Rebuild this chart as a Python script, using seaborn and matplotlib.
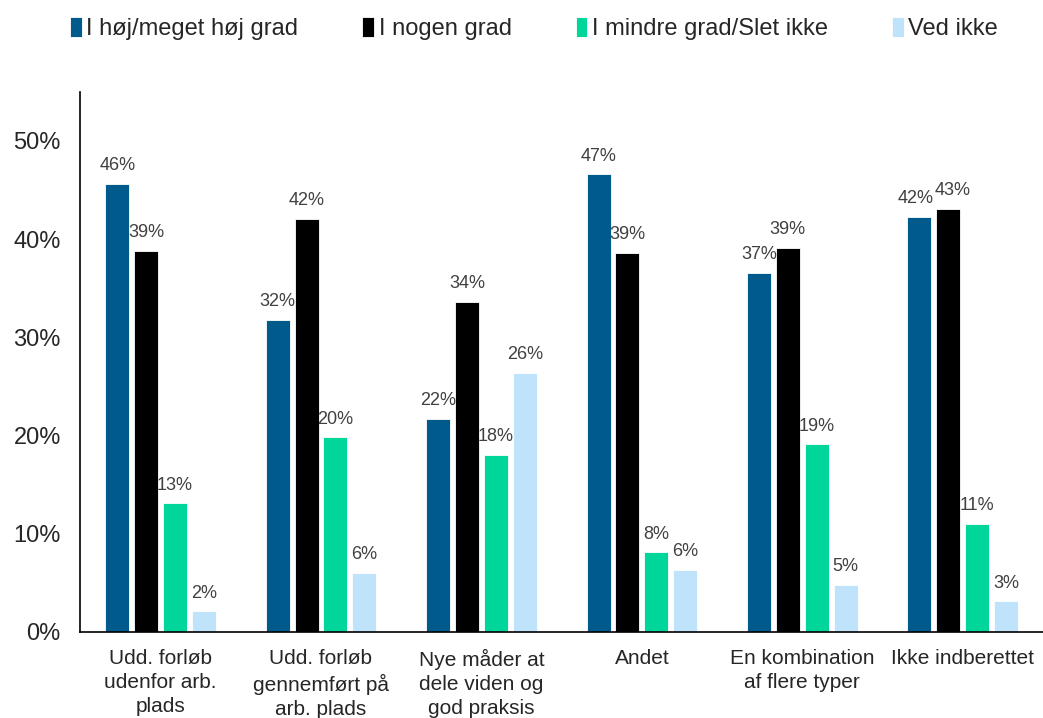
import matplotlib
matplotlib.use("Agg")
import matplotlib.pyplot as plt
import seaborn as sns
import pandas as pd
from matplotlib.ticker import PercentFormatter

categories = [
    "Udd. forløb\nudenfor arb.\nplads",
    "Udd. forløb\ngennemført på\narb. plads",
    "Nye måder at\ndele viden og\ngod praksis",
    "Andet",
    "En kombination\naf flere typer",
    "Ikke indberettet",
]
series_names = ["I høj/meget høj grad", "I nogen grad", "I mindre grad/Slet ikke", "Ved ikke"]
hoej = [45.6, 31.8, 21.7, 46.6, 36.6, 42.3]
nogen = [38.8, 42.1, 33.6, 38.6, 39.1, 43.1]
mindre = [13.1, 19.8, 18.0, 8.1, 19.1, 11.0]
ved_ikke = [2.1, 6.0, 26.4, 6.3, 4.8, 3.1]
colors = ["#005A8C", "#000000", "#00D69A", "#BFE3FB"]

rows = []
for name, vals in zip(series_names, [hoej, nogen, mindre, ved_ikke]):
    for cat, v in zip(categories, vals):
        rows.append({"kategori": cat, "serie": name, "andel": v})
df = pd.DataFrame(rows)

sns.set_style("white")
plt.rcParams["font.family"] = ["Liberation Sans", "DejaVu Sans"]

fig = plt.figure(figsize=(10.43, 7.18), dpi=100)
ax = fig.add_axes([0.077, 0.12, 0.923, 0.752])

sns.barplot(data=df, x="kategori", y="andel", hue="serie", palette=colors,
            saturation=1, width=0.72, gap=0.17, ax=ax, edgecolor="white",
            linewidth=0.6, legend=True)

labels_all = []
for cont in ax.containers:
    labels_all.append(ax.bar_label(cont, fmt="%.0f%%", padding=7, fontsize=13,
                                   color="#404040"))
# the two tall bars in the last group sit close; nudge their labels apart
labels_all[0][5].xyann = (-3, 7)
labels_all[1][5].xyann = (3, 7)

ax.set_ylim(0, 55)
ax.set_xlim(-0.5, 5.5)
ax.set_yticks([0, 10, 20, 30, 40, 50])
ax.yaxis.set_major_formatter(PercentFormatter(decimals=0))
ax.set_xlabel("")
ax.set_ylabel("")
ax.tick_params(axis="y", labelsize=17, length=0, pad=14)
ax.tick_params(axis="x", labelsize=15, length=0, pad=12)
for t in ax.get_xticklabels():
    t.set_linespacing(1.35)
sns.despine(ax=ax, top=True, right=True)
for s in ["left", "bottom"]:
    ax.spines[s].set_color("black")
    ax.spines[s].set_linewidth(1.2)

handles, labels = ax.get_legend_handles_labels()
ax.get_legend().remove()
fig.legend(handles, labels, loc="upper center", bbox_to_anchor=(0.512, 1.006),
           ncol=4, frameon=False, fontsize=17, handlelength=0.5, handleheight=0.9,
           handletextpad=0.2, columnspacing=2.7)

fig.savefig("out.png", dpi=100)
